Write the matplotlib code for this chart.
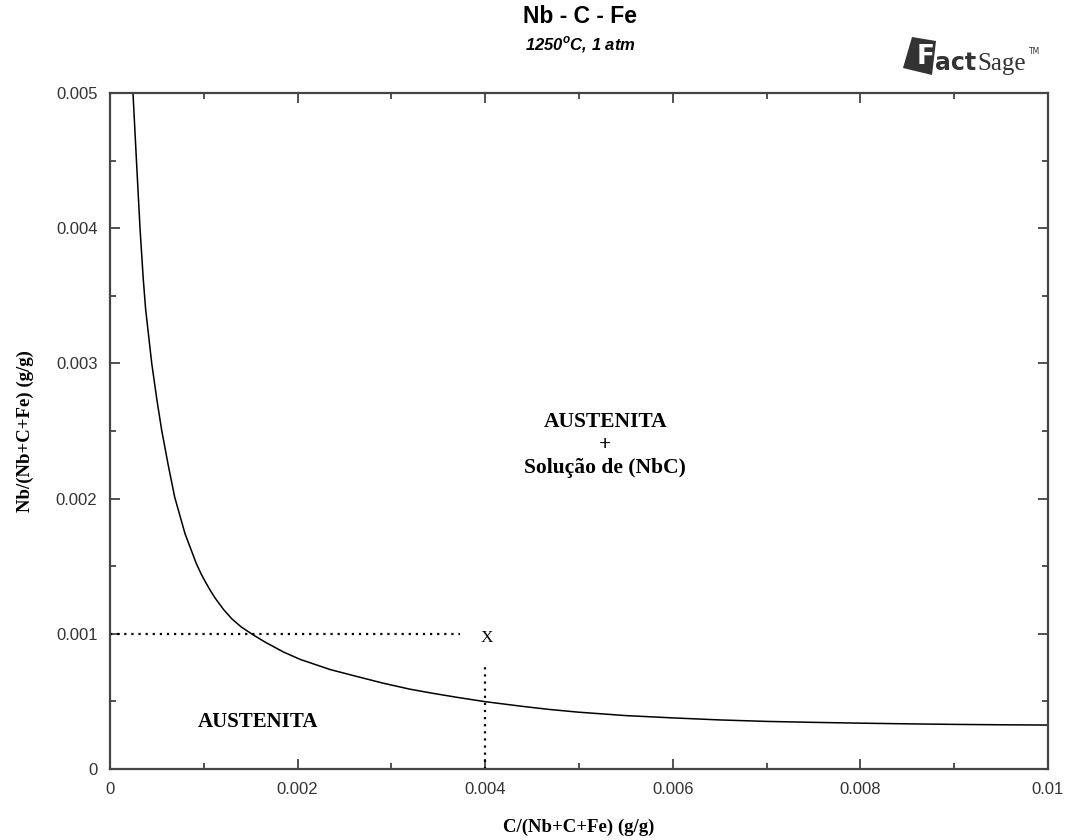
import numpy as np
import matplotlib
matplotlib.use("Agg")
import matplotlib.pyplot as plt
import matplotlib.patches as mpatches
from matplotlib.ticker import MultipleLocator

# phase boundary (C mass fraction, Nb mass fraction)
c_frac = [0.000245, 0.000282, 0.00032, 0.000355, 0.00038, 0.000445, 0.00050,
          0.00055, 0.00062, 0.00069, 0.00080, 0.00092, 0.00097, 0.00102,
          0.00107, 0.00112, 0.00121, 0.00130, 0.00140, 0.00152, 0.00165,
          0.00185, 0.00203, 0.00235, 0.0026, 0.00291, 0.0032, 0.00344,
          0.0037, 0.0040, 0.0044, 0.00469, 0.0050, 0.0055, 0.0060, 0.0065,
          0.0070, 0.0075, 0.0080, 0.0085, 0.0090, 0.0095, 0.0100]
nb_frac = [0.0050, 0.0045, 0.0040, 0.00362, 0.0034, 0.0030, 0.00273,
           0.00251, 0.00225, 0.00201, 0.00174, 0.00152, 0.001445, 0.00138,
           0.00132, 0.001265, 0.00118, 0.00111, 0.00105, 0.000995, 0.00094,
           0.000865, 0.00081, 0.000735, 0.00069, 0.000635, 0.00059, 0.00056,
           0.00053, 0.000498, 0.000463, 0.00044, 0.00042, 0.000395, 0.000378, 0.000363,
           0.000352, 0.000345, 0.000339, 0.000334, 0.00033, 0.000327, 0.000325]

# composition point marked with "x" and its guide lines
point_c = 0.004
point_nb = 0.001
hline_end = 0.00373
vline_top = 0.00078

xticks = [0, 0.002, 0.004, 0.006, 0.008, 0.01]
xtick_labels = ["0", "0.002", "0.004", "0.006", "0.008", "0.01"]
yticks = [0, 0.001, 0.002, 0.003, 0.004, 0.005]
ytick_labels = ["0", "0.001", "0.002", "0.003", "0.004", "0.005"]

W, H = 1068, 840
fig = plt.figure(figsize=(W / 100, H / 100), dpi=100)
ax = fig.add_axes([110 / W, 71 / H, 938 / W, 676 / H])

ax.plot(c_frac, nb_frac, color="black", lw=1.1)
ax.plot([0, hline_end], [point_nb, point_nb], color="black", lw=1.6,
        linestyle=(0, (1, 2.2)))
ax.plot([point_c, point_c], [0, vline_top], color="black", lw=1.6,
        linestyle=(0, (1, 2.2)))
ax.text(point_c + 0.00002, point_nb - 0.00003, "X", family="Liberation Serif",
        fontsize=12.5, ha="center", va="center")

ax.set_xlim(0, 0.01)
ax.set_ylim(0, 0.005)
ax.set_xticks(xticks)
ax.set_xticklabels(xtick_labels)
ax.set_yticks(yticks)
ax.set_yticklabels(ytick_labels)
ax.xaxis.set_minor_locator(MultipleLocator(0.001))
ax.yaxis.set_minor_locator(MultipleLocator(0.0005))
ax.tick_params(which="both", direction="in", top=True, right=True,
               color="#333333", labelsize=12, labelcolor="#333333")
ax.tick_params(which="major", length=7, width=1.2, pad=9)
ax.tick_params(which="minor", length=4, width=1.2)
for lbl in ax.get_xticklabels() + ax.get_yticklabels():
    lbl.set_family("Liberation Sans")
for sp in ax.spines.values():
    sp.set_color("#444444")
    sp.set_linewidth(1.6)

ax.set_xlabel("C/(Nb+C+Fe) (g/g)", family="Liberation Serif",
              fontweight="bold", fontsize=13.5, va="center")
ax.set_ylabel("Nb/(Nb+C+Fe) (g/g)", family="Liberation Serif",
              fontweight="bold", fontsize=13.5, va="center")
ax.xaxis.set_label_coords(0.5, -0.087)
ax.yaxis.set_label_coords(-0.09, 0.5)

ax.text(0.00158, 0.00035, "AUSTENITA", family="Liberation Serif",
        fontweight="bold", fontsize=15, ha="center", va="center")
ax.text(0.00528, 0.0024, "AUSTENITA\n+\nSolução de (NbC)",
        family="Liberation Serif", fontweight="bold", fontsize=15.5,
        ha="center", va="center", linespacing=1.2)

fig.text(580 / W, 1 - 5 / H, "Nb - C - Fe", family="Liberation Sans",
         fontweight="bold", fontsize=16.5, ha="center", va="top")
fig.text(580 / W, 1 - 34 / H, r"1250$^{\mathregular{o}}$C, 1 atm",
         family="Liberation Sans", fontweight="bold", style="italic",
         fontsize=12, ha="center", va="top")

# FactSage logo, drawn roughly
logo_px = [(912, 37), (936, 41), (932, 75), (903, 68)]
logo_xy = [(px / W, 1 - py / H) for px, py in logo_px]
fig.patches.append(mpatches.Polygon(logo_xy, closed=True, facecolor="#333333",
                                    edgecolor="none", transform=fig.transFigure,
                                    figure=fig))
fig.text(926 / W, 1 - 57 / H, "F", family="DejaVu Sans", fontweight="bold",
         fontsize=19, color="white", ha="center", va="center")
fig.text(935 / W, 1 - 70 / H, "act", family="DejaVu Sans", fontweight="bold",
         fontsize=17, color="#333333", ha="left", va="baseline")
fig.text(977 / W, 1 - 70 / H, "Sage", family="Liberation Serif", fontsize=18,
         color="#333333", ha="left", va="baseline")
fig.text(1029 / W, 1 - 52 / H, "TM", family="DejaVu Sans", fontsize=5.5,
         color="#333333", ha="left", va="center")

fig.savefig("out.png", dpi=100, facecolor="white")
